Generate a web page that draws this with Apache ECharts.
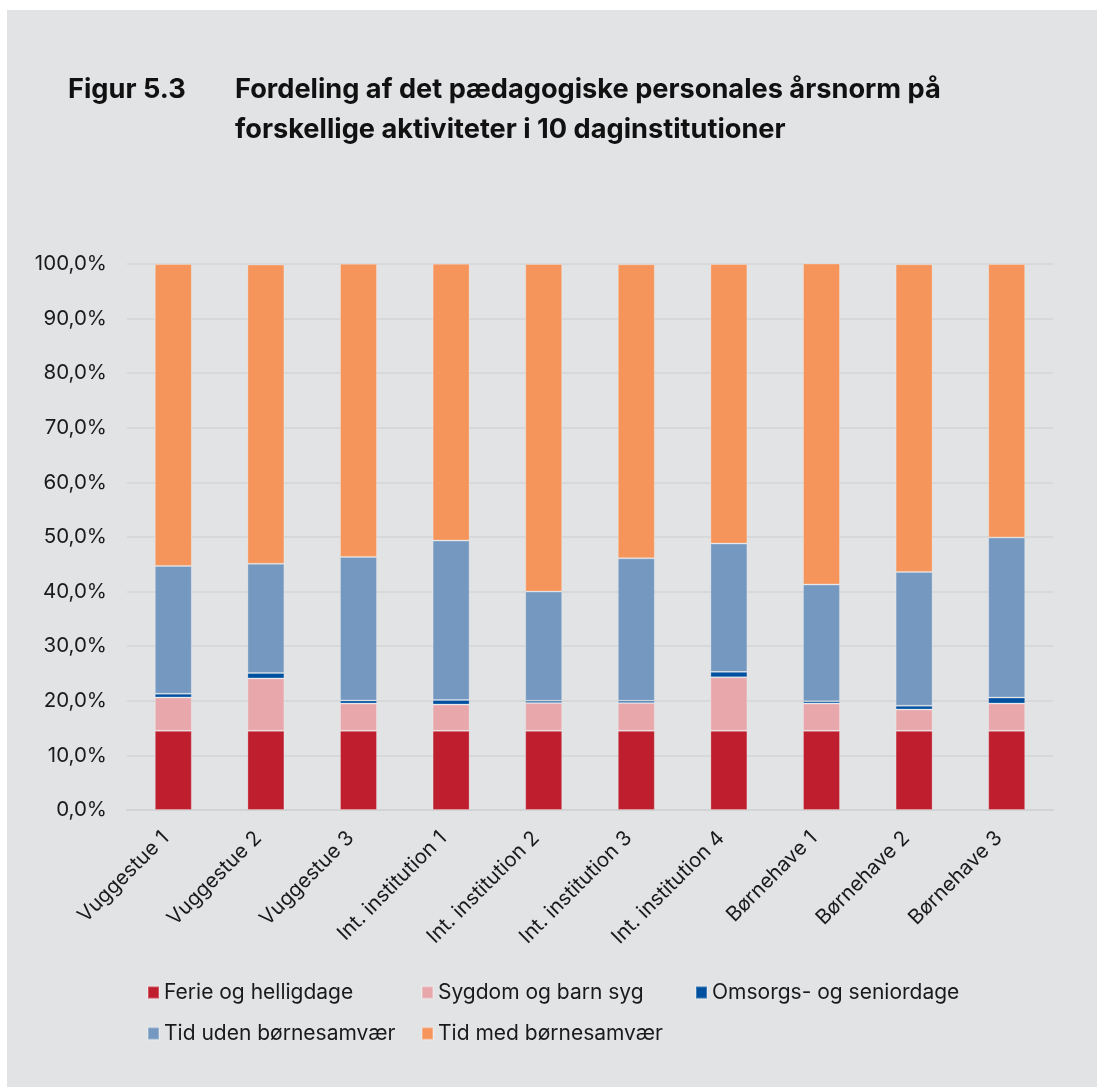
<!DOCTYPE html>
<html>
<head>
<meta charset="utf-8">
<script src="https://cdn.jsdelivr.net/npm/echarts@6/dist/echarts.min.js"></script>
<style>
html,body{margin:0;padding:0;background:#ffffff;}
#chart{width:1097px;height:1087px;}
</style>
</head>
<body>
<div id="chart"></div>
<script>
const categories = ['Vuggestue 1','Vuggestue 2','Vuggestue 3','Int. institution 1','Int. institution 2','Int. institution 3','Int. institution 4','Børnehave 1','Børnehave 2','Børnehave 3'];
const seriesNames = ['Ferie og helligdage','Sygdom og barn syg','Omsorgs- og seniordage','Tid uden børnesamvær','Tid med børnesamvær'];
const ferie   = [14.5, 14.5, 14.5, 14.5, 14.5, 14.5, 14.5, 14.5, 14.5, 14.5];
const sygdom  = [6.1, 9.6, 5.0, 4.8, 5.1, 5.1, 9.8, 5.0, 3.9, 5.0];
const omsorg  = [0.7, 1.0, 0.55, 0.85, 0.4, 0.4, 1.0, 0.4, 0.7, 1.1];
const uden    = [23.4, 20.0, 26.3, 29.2, 20.0, 26.1, 23.5, 21.4, 24.5, 29.3];
const med     = [55.3, 54.8, 53.7, 50.7, 60.0, 53.85, 51.2, 58.8, 56.35, 50.1];
const colors  = ['#be1e2d','#e8a7ab','#0050a0','#7598c0','#f5955b'];
const titleFig = 'Figur 5.3';
const titleText = 'Fordeling af det pædagogiske personales årsnorm på\nforskellige aktiviteter i 10 daginstitutioner';

const values = [ferie, sygdom, omsorg, uden, med];
const FONT = 'Inter';
const legendPos = [[147,982],[421,982],[695,982],[147,1023],[421,1023]];

const chart = echarts.init(document.getElementById('chart'));
chart.setOption({
  backgroundColor: '#ffffff',
  animation: false,
  textStyle: {fontFamily: FONT},
  graphic: [{
    type: 'rect', z: -10, silent: true,
    shape: {x: 7, y: 10, width: 1090, height: 1077},
    style: {fill: '#e2e3e5'}
  }],
  title: [
    {text: titleFig, left: 68, top: 70, padding: 0, textStyle: {fontFamily: FONT, fontSize: 27.2, fontWeight: 'bold', color: '#111111', lineHeight: 40}},
    {text: titleText, left: 235, top: 70, padding: 0, textStyle: {fontFamily: FONT, fontSize: 27.2, fontWeight: 'bold', color: '#111111', lineHeight: 40}}
  ],
  legend: seriesNames.map((n, i) => ({
    data: [n], left: legendPos[i][0], top: legendPos[i][1], padding: 0,
    itemWidth: 11, itemHeight: 12, icon: 'rect', itemGap: 0,
    textStyle: {fontFamily: FONT, fontSize: 21, color: '#1a1a1a', padding: [0,0,0,0]},
    selectedMode: false
  })),
  grid: {left: 127, right: 44, top: 264, bottom: 277, containLabel: false},
  xAxis: {
    type: 'category', data: categories,
    axisLine: {show: true, lineStyle: {color: '#d2d3d5', width: 2}},
    axisTick: {show: false},
    axisLabel: {rotate: 45, fontFamily: FONT, fontSize: 20.5, color: '#1a1a1a', margin: 17, interval: 0, padding: [0, 11, 0, 0]}
  },
  yAxis: {
    type: 'value', min: 0, max: 100, interval: 10,
    axisLine: {show: false}, axisTick: {show: false},
    splitLine: {lineStyle: {color: '#d3d4d6', width: 1.5}},
    axisLabel: {fontFamily: FONT, fontSize: 20.5, color: '#1a1a1a', margin: 20,
      formatter: v => v.toFixed(1).replace('.', ',') + '%'}
  },
  series: seriesNames.map((n, i) => ({
    name: n, type: 'bar', stack: 'total', data: values[i], barWidth: 37,
    itemStyle: {color: colors[i], borderColor: 'rgba(255,255,255,0.25)', borderWidth: 1}
  }))
});
</script>
</body>
</html>
